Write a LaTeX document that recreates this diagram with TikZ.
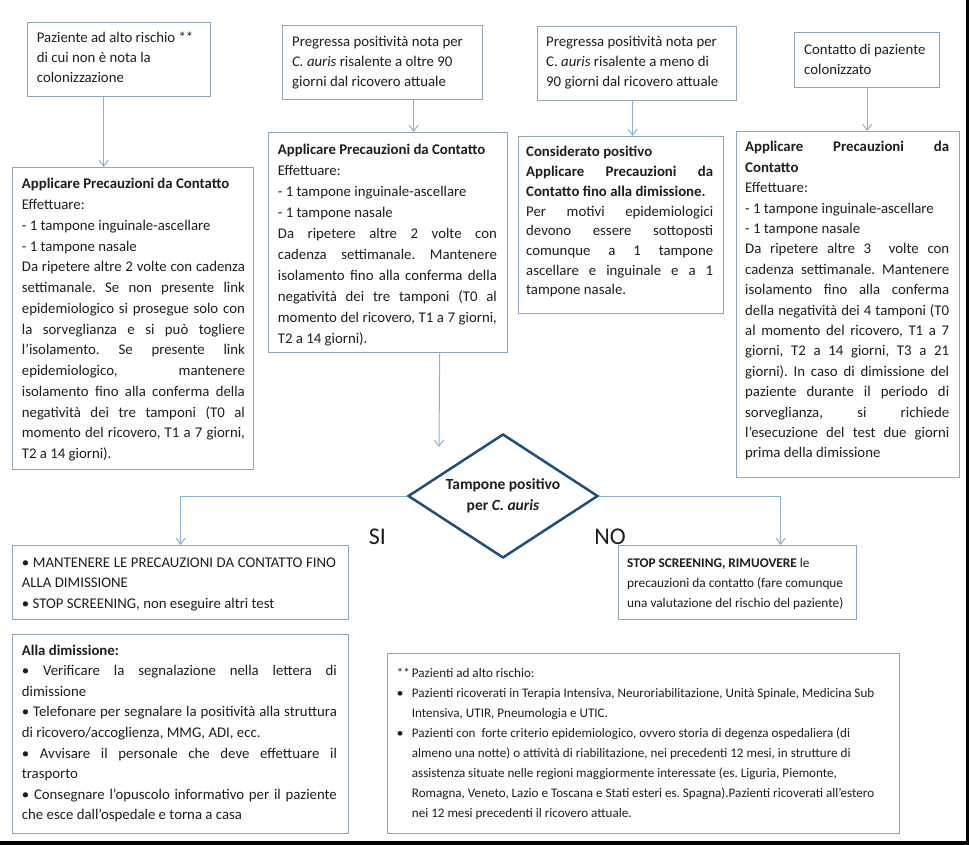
\documentclass[tikz,border=0pt]{standalone}
\usepackage{fontspec}
\setmainfont{Carlito}
\usetikzlibrary{shapes.geometric,arrows.meta}
\definecolor{boxc}{HTML}{8FA6BF}
\definecolor{arrc}{HTML}{8EAFD3}
\definecolor{diac}{HTML}{1F4E79}
\definecolor{txtc}{HTML}{1E1E1E}
\newcommand\JL[1]{\hbox to\hsize{#1}}
\newcommand\RL[1]{\hbox{#1}}
\newcommand\TB[2]{\vtop{\hsize=#1\relax\parindent=0pt\relax #2}}
\frenchspacing
\begin{document}
\begin{tikzpicture}[x=1pt,y=-1pt,
  box/.style={draw=boxc, line width=1.3pt, fill=white, inner sep=0pt, anchor=north west},
  txt/.style={inner sep=0pt, anchor=base west, text=txtc, font=\fontsize{14.8}{20.6}\selectfont},
  arr/.style={draw=arrc, line width=1pt, -{Straight Barb[length=6pt,width=9pt]}},
  lbl/.style={inner sep=0pt, text=txtc, font=\fontsize{24}{28}\selectfont}
]
\useasboundingbox (0,0) rectangle (969,845);
\fill[black] (966,0) rectangle (969,845);
\fill[black] (0,841) rectangle (969,845);

% top boxes
\node[box, minimum width=183pt, minimum height=74pt] (A) at (27,22) {};
\node[txt, font=\fontsize{14.8}{20}\selectfont] (At) at (36.7,43) {\TB{172pt}{%
\RL{Paziente ad alto rischio **}
\RL{di cui non è nota la}
\RL{colonizzazione}}};

\node[box, minimum width=200pt, minimum height=74pt] (B) at (282,25) {};
\node[txt, font=\fontsize{14.8}{20}\selectfont] (Bt) at (292,47) {\TB{185pt}{%
\RL{Pregressa positività nota per}
\RL{\textit{C. auris} risalente a oltre 90}
\RL{giorni dal ricovero attuale}}};

\node[box, minimum width=199pt, minimum height=74pt] (C) at (537,26) {};
\node[txt, font=\fontsize{14.8}{20}\selectfont] (Ct) at (546,47) {\TB{185pt}{%
\RL{Pregressa positività nota per}
\RL{C. \textit{auris} risalente a meno di}
\RL{90 giorni dal ricovero attuale}}};

\node[box, minimum width=145pt, minimum height=55pt] (D) at (794,32) {};
\node[txt, font=\fontsize{14.8}{19.5}\selectfont] (Dt) at (804,55) {\TB{130pt}{%
\RL{Contatto di paziente}
\RL{colonizzato}}};

% second row
\node[box, minimum width=241pt, minimum height=302pt] (E) at (12,167) {};
\node[txt, font=\fontsize{14.8}{20.75}\selectfont] (Et) at (21.7,189) {\TB{223pt}{%
\RL{\textbf{Applicare Precauzioni da Contatto}}
\RL{Effettuare:}
\RL{- 1 tampone inguinale-ascellare}
\RL{- 1 tampone nasale}
\JL{Da ripetere altre 2 volte con cadenza}
\JL{settimanale. Se non presente link}
\JL{epidemiologico si prosegue solo con}
\JL{la sorveglianza e si può togliere}
\JL{l’isolamento. Se presente link}
\JL{epidemiologico, mantenere}
\JL{isolamento fino alla conferma della}
\JL{negatività dei tre tamponi (T0 al}
\JL{momento del ricovero, T1 a 7 giorni,}
\RL{T2 a 14 giorni).}}};

\node[box, minimum width=239pt, minimum height=220pt] (F) at (268,132) {};
\node[txt, font=\fontsize{14.8}{21}\selectfont] (Ft) at (277.7,155) {\TB{219pt}{%
\RL{\textbf{Applicare Precauzioni da Contatto}}
\RL{Effettuare:}
\RL{- 1 tampone inguinale-ascellare}
\RL{- 1 tampone nasale}
\JL{Da ripetere altre 2 volte con}
\JL{cadenza settimanale. Mantenere}
\JL{isolamento fino alla conferma della}
\JL{negatività dei tre tamponi (T0 al}
\JL{momento del ricovero, T1 a 7 giorni,}
\RL{T2 a 14 giorni).}}};

\node[box, minimum width=205pt, minimum height=177pt] (G) at (518,136) {};
\node[txt, font=\fontsize{14.8}{19.7}\selectfont] (Gt) at (526,157) {\TB{187pt}{%
\RL{\textbf{Considerato positivo}}
\JL{\textbf{Applicare Precauzioni da}}
\RL{\textbf{Contatto fino alla dimissione.}}
\JL{Per motivi epidemiologici}
\JL{devono essere sottoposti}
\JL{comunque a 1 tampone}
\JL{ascellare e inguinale e a 1}
\RL{tampone nasale.}}};

\node[box, minimum width=223pt, minimum height=346pt] (H) at (736,131) {};
\node[txt, font=\fontsize{14.8}{20.4}\selectfont] (Ht) at (745,152) {\TB{204pt}{%
\JL{\textbf{Applicare Precauzioni da}}
\RL{\textbf{Contatto}}
\RL{Effettuare:}
\RL{- 1 tampone inguinale-ascellare}
\RL{- 1 tampone nasale}
\JL{Da ripetere altre 3\ \ volte con}
\JL{cadenza settimanale. Mantenere}
\JL{isolamento fino alla conferma}
\JL{della negatività dei 4 tamponi (T0}
\JL{al momento del ricovero, T1 a 7}
\JL{giorni, T2 a 14 giorni, T3 a 21}
\JL{giorni). In caso di dimissione del}
\JL{paziente durante il periodo di}
\JL{sorveglianza, si richiede}
\JL{l’esecuzione del test due giorni}
\RL{prima della dimissione}}};

% decision
\node[diamond, aspect=1.53, draw=diac, line width=2.5pt, fill=white, minimum width=190pt, minimum height=124pt, inner sep=0pt, align=center, text=txtc, font=\bfseries\fontsize{15.5}{21}\selectfont] (Q) at (503,496) {Tampone positivo\\per \textit{C. auris}};

\node[lbl] (si) at (377.5,536.5) {SI};
\node[lbl] (no) at (610,536.5) {NO};

% bottom boxes
\node[box, minimum width=336pt, minimum height=74pt] (I) at (12,545) {};
\node[txt, font=\fontsize{14.8}{20.5}\selectfont] (It) at (21.7,567) {\TB{314pt}{%
\JL{• MANTENERE LE PRECAUZIONI DA CONTATTO FINO}
\RL{ALLA DIMISSIONE}
\RL{• STOP SCREENING, non eseguire altri test}}};

\node[box, minimum width=336pt, minimum height=199pt] (K) at (12,634) {};
\node[txt, font=\fontsize{14.8}{20.6}\selectfont] (Kt) at (21.7,655) {\TB{315pt}{%
\RL{\textbf{Alla dimissione:}}
\JL{• Verificare la segnalazione nella lettera di}
\RL{dimissione}
\JL{• Telefonare per segnalare la positività alla struttura}
\RL{di ricovero/accoglienza, MMG, ADI, ecc.}
\JL{• Avvisare il personale che deve effettuare il}
\RL{trasporto}
\JL{• Consegnare l’opuscolo informativo per il paziente}
\RL{che esce dall’ospedale e torna a casa}}};

\node[box, minimum width=238pt, minimum height=74pt] (J) at (618,545) {};
\node[txt, font=\fontsize{13.3}{20.3}\selectfont] (Jt) at (627,567) {\TB{225pt}{%
\RL{\textbf{STOP SCREENING, RIMUOVERE} le}
\RL{precauzioni da contatto (fare comunque}
\RL{una valutazione del rischio del paziente)}}};

\node[box, minimum width=512pt, minimum height=180pt] (L) at (387,653) {};
\node[txt, font=\fontsize{13.1}{20}\selectfont] (Lt) at (396.7,677) {\TB{495pt}{%
\RL{\makebox[15pt][l]{**}Pazienti ad alto rischio:}
\RL{\makebox[15pt][l]{•}Pazienti ricoverati in Terapia Intensiva, Neuroriabilitazione, Unità Spinale, Medicina Sub}
\RL{\hspace*{15pt}Intensiva, UTIR, Pneumologia e UTIC.}
\RL{\makebox[15pt][l]{•}Pazienti con\ \ forte criterio epidemiologico, ovvero storia di degenza ospedaliera (di}
\RL{\hspace*{15pt}almeno una notte) o attività di riabilitazione, nei precedenti 12 mesi, in strutture di}
\RL{\hspace*{15pt}assistenza situate nelle regioni maggiormente interessate (es. Liguria, Piemonte,}
\RL{\hspace*{15pt}Romagna, Veneto, Lazio e Toscana e Stati esteri es. Spagna).Pazienti ricoverati all’estero}
\RL{\hspace*{15pt}nei 12 mesi precedenti il ricovero attuale.}}};

% connectors
\draw[arr] ([xshift=-15.5pt]A.south) -- ([xshift=-15.5pt]A.south |- E.north);
\draw[arr] ([xshift=31pt]B.south) -- ([xshift=31pt]B.south |- F.north);
\draw[arr] ([xshift=-4.5pt]C.south) -- ([xshift=-4.5pt]C.south |- G.north);
\draw[arr] (D.south) -- (D.south |- H.north);
\coordinate (fq) at (439,447);
\draw[arr] ([xshift=51.5pt]F.south) -- (fq);
\draw[arr] (Q.west) -| (I.north);
\draw[arr] (Q.east) -| ([xshift=43pt]J.north);
\end{tikzpicture}
\end{document}
